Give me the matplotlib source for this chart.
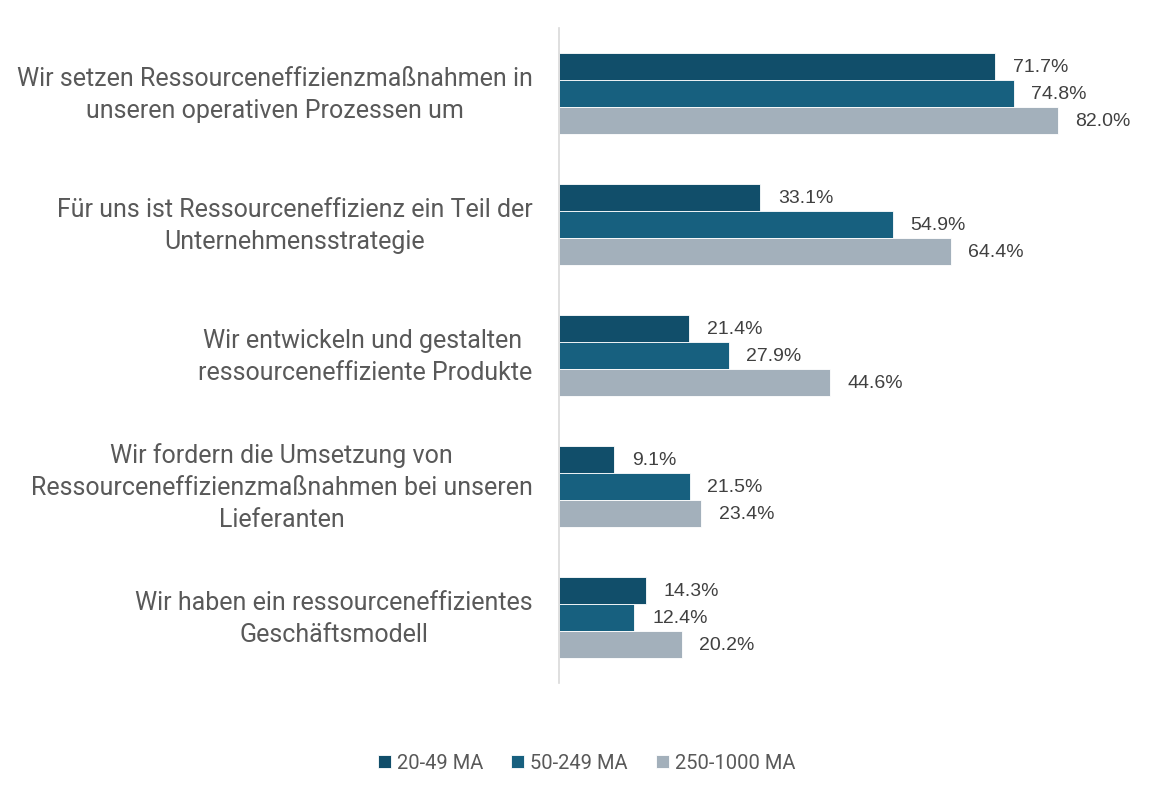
import matplotlib.pyplot as plt
import matplotlib.transforms as mtransforms
import numpy as np

categories = [
    "Wir setzen Ressourceneffizienzmaßnahmen in\nunseren operativen Prozessen um",
    "Für uns ist Ressourceneffizienz ein Teil der\nUnternehmensstrategie",
    "Wir entwickeln und gestalten \nressourceneffiziente Produkte",
    "Wir fordern die Umsetzung von\nRessourceneffizienzmaßnahmen bei unseren\nLieferanten",
    "Wir haben ein ressourceneffizientes\nGeschäftsmodell",
]
series_names = ["20-49 MA", "50-249 MA", "250-1000 MA"]
small = [71.7, 33.1, 21.4, 9.1, 14.3]
medium = [74.8, 54.9, 27.9, 21.5, 12.4]
large = [82.0, 64.4, 44.6, 23.4, 20.2]
colors = ["#114E6A", "#17607F", "#A3B0BB"]

fig = plt.figure(figsize=(11.64, 8), dpi=100)
ax = fig.add_axes([559 / 1164, 1 - 683 / 800, 577.6 / 1164, 655 / 800])

y = np.arange(len(categories))
h = 27 / 131
for i, (vals, name) in enumerate(zip([small, medium, large], series_names)):
    pos = y + (i - 1) * h
    ax.barh(pos, vals, height=h, color=colors[i], edgecolor="white",
            linewidth=0.6, label=name)
    for p, v in zip(pos, vals):
        ax.text(v + 2.9, p + 0.01, f"{v:.1f}%", va="center", ha="left",
                fontsize=14, color="#404040", family="Liberation Sans")

ax.set_xlim(0, 95)
ax.set_ylim(4.5, -0.5)
ax.set_yticks(y)
ax.set_yticklabels(categories, fontsize=18, color="#595959", family="Roboto",
                   linespacing=1.42, ha="right", multialignment="center")
ax.tick_params(axis="y", length=0, pad=19)
# nudge labels up a little
shift = mtransforms.ScaledTranslation(0, 5 / 100, fig.dpi_scale_trans)
for lab in ax.get_yticklabels():
    lab.set_transform(lab.get_transform() + shift)
ax.set_xticks([])
for s in ["top", "right", "bottom"]:
    ax.spines[s].set_visible(False)
ax.spines["left"].set_color("#D9D9D9")
ax.spines["left"].set_linewidth(1.2)

fig.legend(loc="center", bbox_to_anchor=(0.504, 0.046), ncol=3, frameon=False,
           handlelength=0.65, handleheight=0.65, handletextpad=0.3,
           columnspacing=1.4,
           prop={"family": "Roboto", "size": 14.5})
for t in fig.legends[0].get_texts():
    t.set_color("#595959")

fig.savefig("out.png", dpi=100)
